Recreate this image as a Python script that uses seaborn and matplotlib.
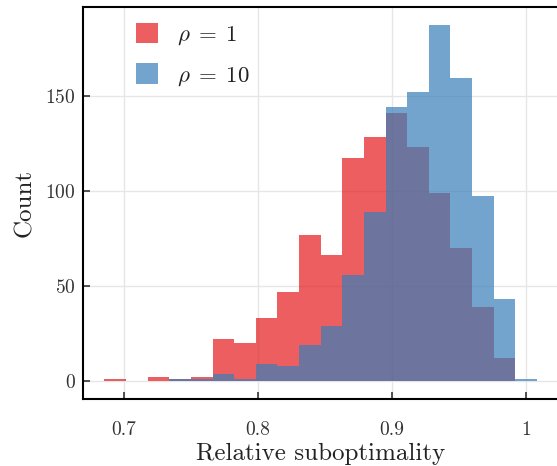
import matplotlib
matplotlib.use("Agg")
import matplotlib.pyplot as plt
from matplotlib.ticker import FuncFormatter
import numpy as np
import pandas as pd
import seaborn as sns

# common bin edges (20 bins)
bin_lo = 0.6853
bin_hi = 1.0082
n_bins = 20

# counts per bin
counts_rho1 = [1, 0, 2, 1, 2, 22, 20, 33, 47, 77, 66, 117, 128, 141, 123, 99, 70, 39, 12, 0]
counts_rho10 = [0, 0, 0, 1, 1, 4, 1, 9, 8, 19, 29, 56, 89, 144, 152, 187, 159, 97, 43, 1]

labels = [r"$\rho\;=\;1$", r"$\rho\;=\;10$"]
x_ticks = [0.7, 0.8, 0.9, 1.0]
y_ticks = [0, 50, 100, 150]

sns.set_style("ticks")
plt.rcParams["font.family"] = ["cmr10", "DejaVu Serif"]
plt.rcParams["mathtext.fontset"] = "cm"
plt.rcParams["axes.formatter.use_mathtext"] = True

edges = np.linspace(bin_lo, bin_hi, n_bins + 1)
centers = (edges[:-1] + edges[1:]) / 2
palette = sns.color_palette("Set1")

fig = plt.figure(figsize=(5.57, 4.66), dpi=100)
ax = fig.add_axes([0.1485, 0.1438, 0.8544, 0.8406])

for counts, label, color in zip([counts_rho1, counts_rho10], labels, palette[:2]):
    df = pd.DataFrame({"value": centers, "count": counts})
    sns.histplot(data=df, x="value", weights="count", bins=list(edges), color=color,
                 alpha=0.7, linewidth=0, label=label, ax=ax)

span = bin_hi - bin_lo
ax.set_xlim(bin_lo - 0.05 * span, bin_hi + 0.05 * span)
ax.set_ylim(-0.05 * 187, 187 * 1.05)
ax.set_xticks(x_ticks)
ax.set_yticks(y_ticks)
ax.xaxis.set_major_formatter(FuncFormatter(lambda v, p: f"{v:g}"))
ax.grid(True, color="#e6e6e6", linewidth=1)
ax.set_axisbelow(True)
ax.tick_params(direction="in", length=5, width=1.2, color="#333333",
               labelcolor="#333333", labelsize=14)
ax.tick_params(axis="x", pad=16)
ax.tick_params(axis="y", pad=5)

for side in ["left", "bottom", "top"]:
    ax.spines[side].set_linewidth(1.5)
    ax.spines[side].set_color("black")
ax.spines["right"].set_visible(False)

ax.set_xlabel("Relative suboptimality", fontsize=18, labelpad=3, color="#222222")
ax.set_ylabel("Count", fontsize=18, labelpad=6.5, color="#222222")

ax.legend(frameon=False, loc="upper left", fontsize=16.5, handlelength=1.0, handleheight=1.0,
          labelspacing=0.7, handletextpad=0.8, borderpad=0, borderaxespad=0,
          bbox_to_anchor=(0.111, 0.96), labelcolor="#222222")

fig.savefig("out.png", dpi=100)
